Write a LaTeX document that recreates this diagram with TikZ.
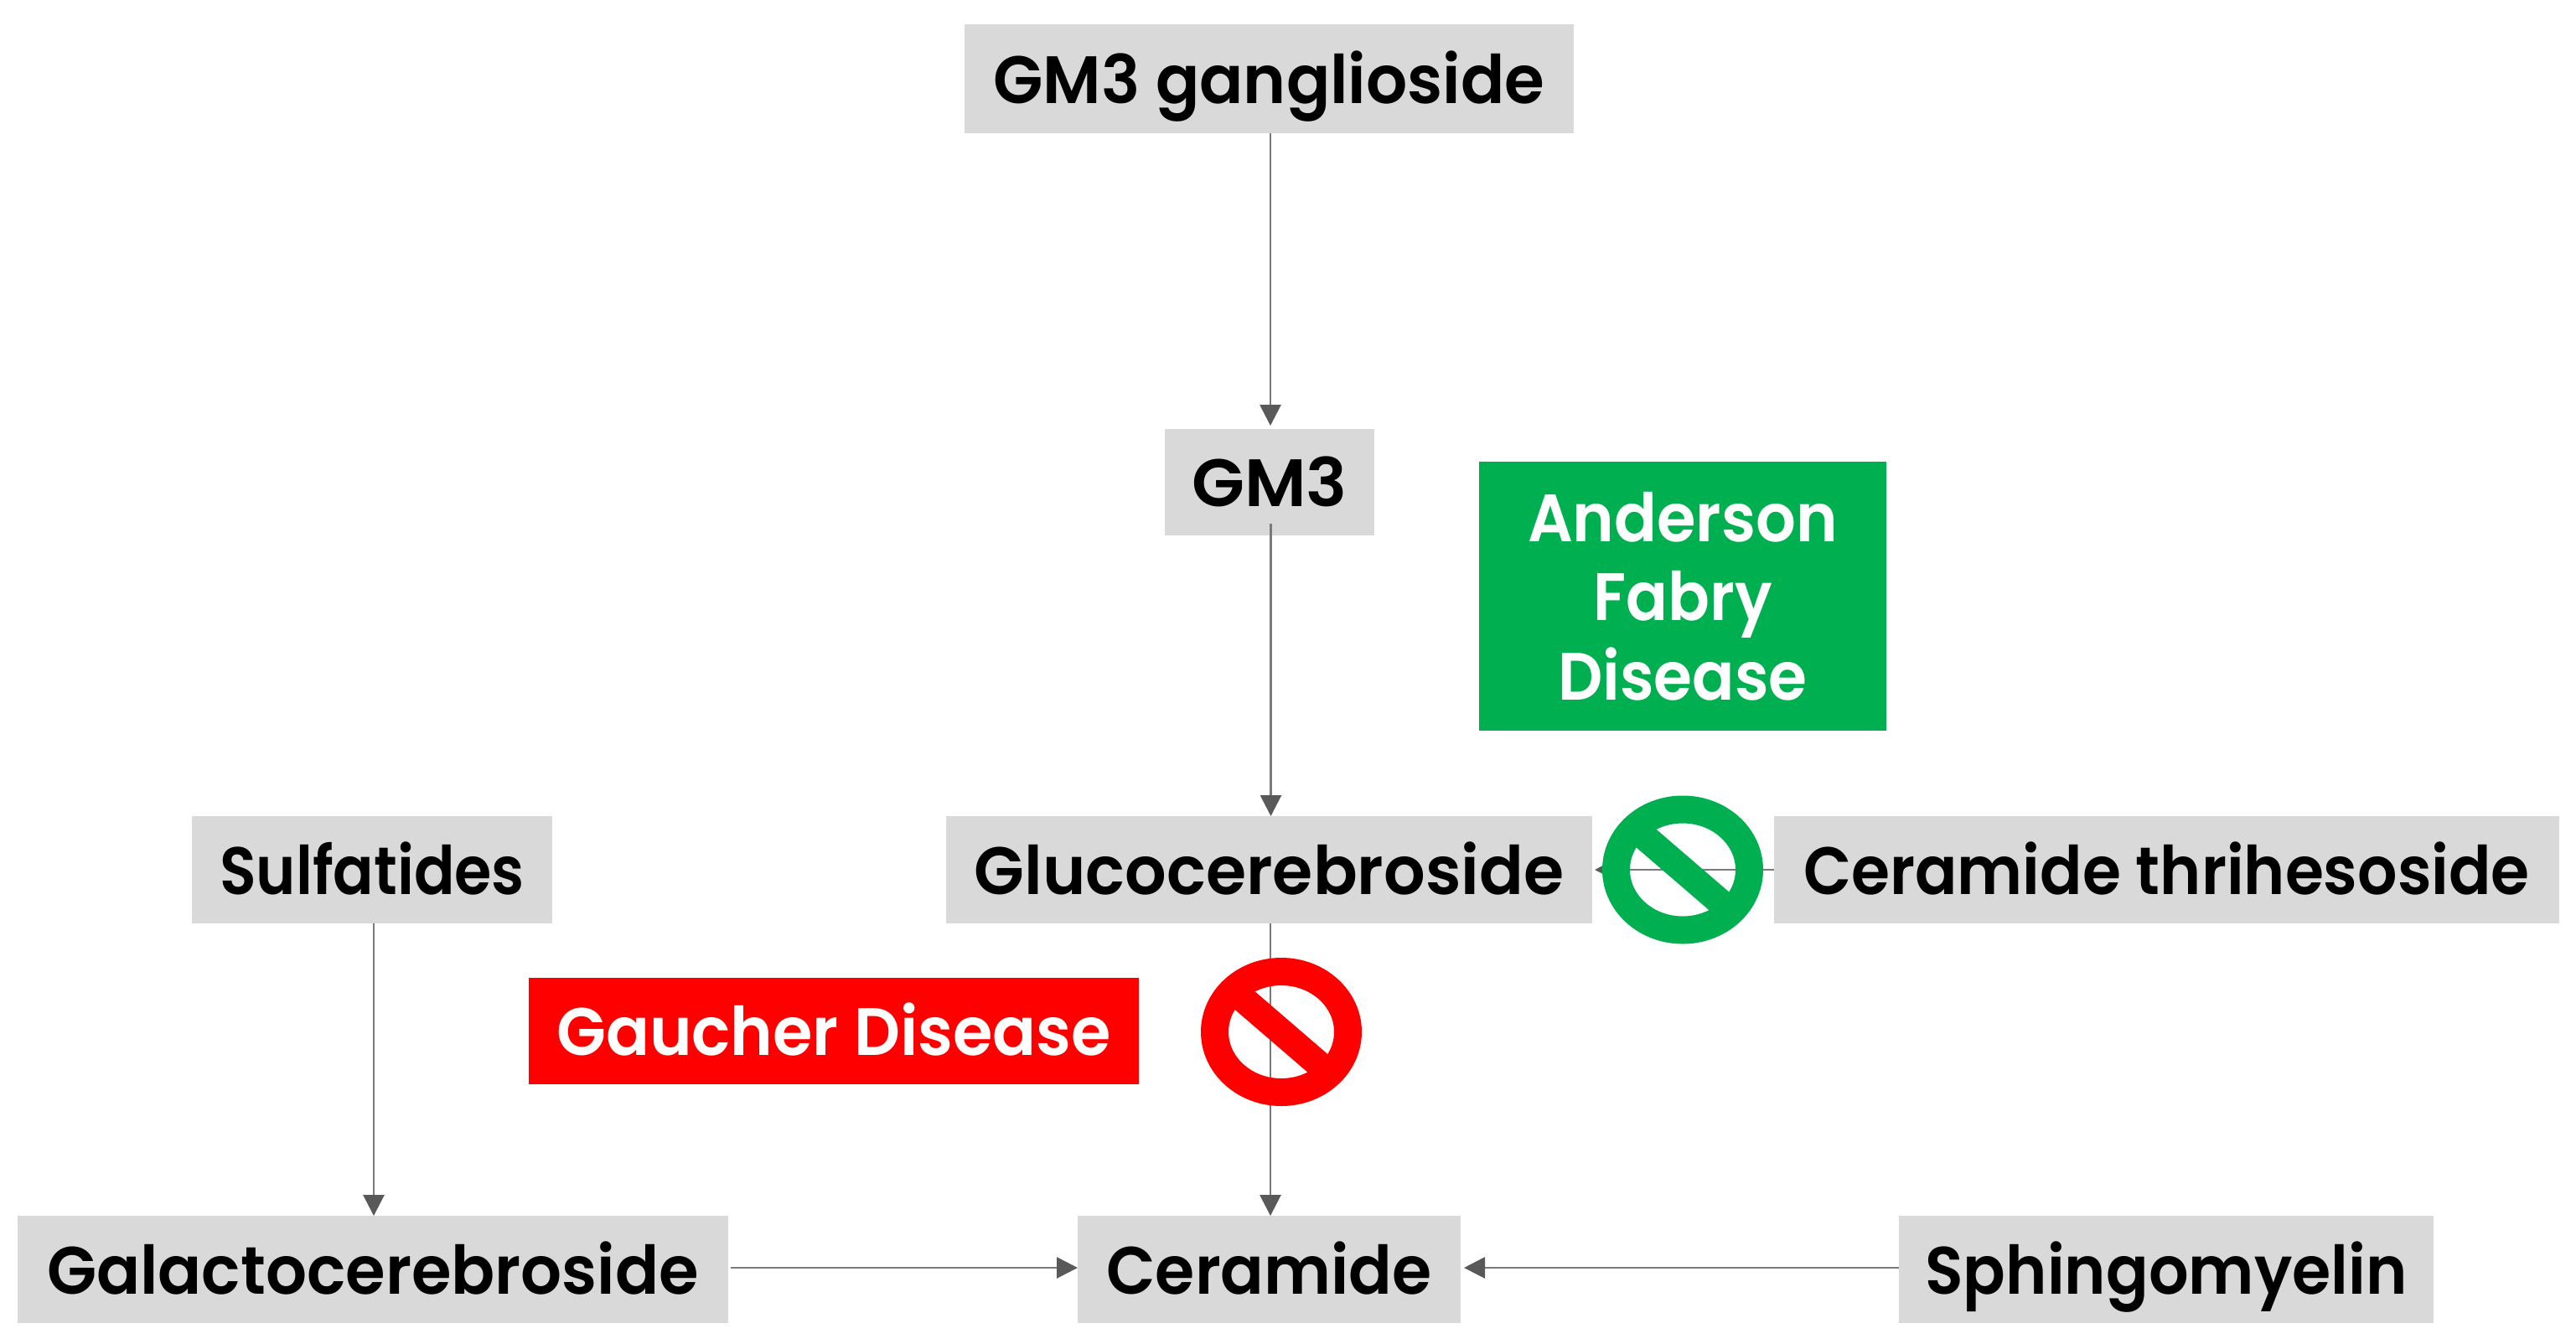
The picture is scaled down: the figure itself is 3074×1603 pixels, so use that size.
\documentclass[tikz,border=0pt]{standalone}
\usepackage{fontspec}
\setmainfont{Poppins}[BoldFont=Poppins-SemiBold]
\usetikzlibrary{arrows.meta,shapes.geometric}
\definecolor{boxgray}{HTML}{D9D9D9}
\definecolor{linegray}{HTML}{7A7A7A}
\definecolor{headgray}{HTML}{595959}
\definecolor{bangreen}{HTML}{00B050}
\definecolor{banred}{HTML}{FF0000}
\tikzset{
  px/.style={x=0.5pt,y=-0.5pt},
  lbl/.style={inner sep=0pt,outer sep=0pt,align=center,text height=29pt,text depth=0pt,font=\fontsize{40}{47.25}\selectfont\bfseries},
  graybox/.style={lbl,fill=boxgray,text=black},
  conn/.style={draw=linegray,line width=1.4pt,-{Triangle[length=12.5pt,width=12.5pt,color=headgray]}},
  banring/.style={ellipse,draw,line width=16.5pt,inner sep=0pt,outer sep=0pt,minimum width=79.5pt,minimum height=72pt},
}
\newcommand{\sx}[2]{\scalebox{#1}[1]{#2}}
\newcommand{\boxnode}[7]{% name, x0,y0,x1,y1, style, text
  \node[#6,minimum width=#4*0.5pt-#2*0.5pt,minimum height=#5*0.5pt-#3*0.5pt] (#1) at ({(#2+#4)/2},{(#3+#5)/2}) {#7};}
\begin{document}
\begin{tikzpicture}[px]
\useasboundingbox (0,0) rectangle (3074,1603);
\boxnode{gang}{1151}{29}{1878}{159}{graybox}{\sx{.966}{GM3 ganglioside}}
\boxnode{gm}{1390}{512}{1640}{639}{graybox}{\sx{1.024}{GM3}}
\boxnode{gluc}{1129}{974}{1900}{1102}{graybox}{\sx{.974}{Glucocerebroside}}
\boxnode{cert}{2117}{974}{3054}{1102}{graybox}{\sx{.931}{Ceramide thrihesoside}}
\boxnode{sulf}{229}{974}{659}{1102}{graybox}{\sx{.896}{Sulfatides}}
\boxnode{gala}{21}{1451}{869}{1579}{graybox}{\sx{.962}{Galactocerebroside}}
\boxnode{cer}{1286}{1451}{1743}{1579}{graybox}{\sx{.954}{Ceramide}}
\boxnode{sph}{2266}{1451}{2904}{1579}{graybox}{\sx{.935}{Sphingomyelin}}
\boxnode{gau}{631}{1167}{1359}{1294}{lbl,fill=banred,text=white}{\sx{.959}{Gaucher Disease}}
\boxnode{and}{1765}{551}{2251}{872}{lbl,text height=123.5pt,fill=bangreen,text=white}{\sx{.94}{Anderson}\\\sx{.92}{Fabry}\\\sx{.93}{Disease}}
\coordinate (gmtop) at ([yshift=2pt]gm.north);
\draw[conn] ([xshift=.75pt]gang.south) coordinate (p1) -- (p1 |- gmtop);
\draw[conn] ([xshift=.75pt,yshift=7pt]gm.south) coordinate (p2) -- (p2 |- gluc.north);
\draw[conn] ([xshift=.75pt]gluc.south) coordinate (p3) -- (p3 |- cer.north);
\draw[conn] ([xshift=1pt]sulf.south) coordinate (p4) -- (p4 |- gala.north);
\draw[conn] ([xshift=1.5pt,yshift=1pt]gala.east) -- ([yshift=1pt]cer.west);
\draw[conn] ([yshift=1pt]sph.west) -- ([xshift=2pt,yshift=1pt]cer.east);
\draw[conn] (cert.west) -- ([xshift=1.5pt]gluc.east);
\node[banring,draw=bangreen] (bang) at (2008,1038) {};
\draw[bangreen,line width=16pt] ([shift={(-65,-56)}]bang.center) -- ([shift={(65,56)}]bang.center);
\node[banring,draw=banred] (banr) at (1529,1231.5) {};
\draw[banred,line width=16pt] ([shift={(-65,-56)}]banr.center) -- ([shift={(65,56)}]banr.center);
\end{tikzpicture}
\end{document}
